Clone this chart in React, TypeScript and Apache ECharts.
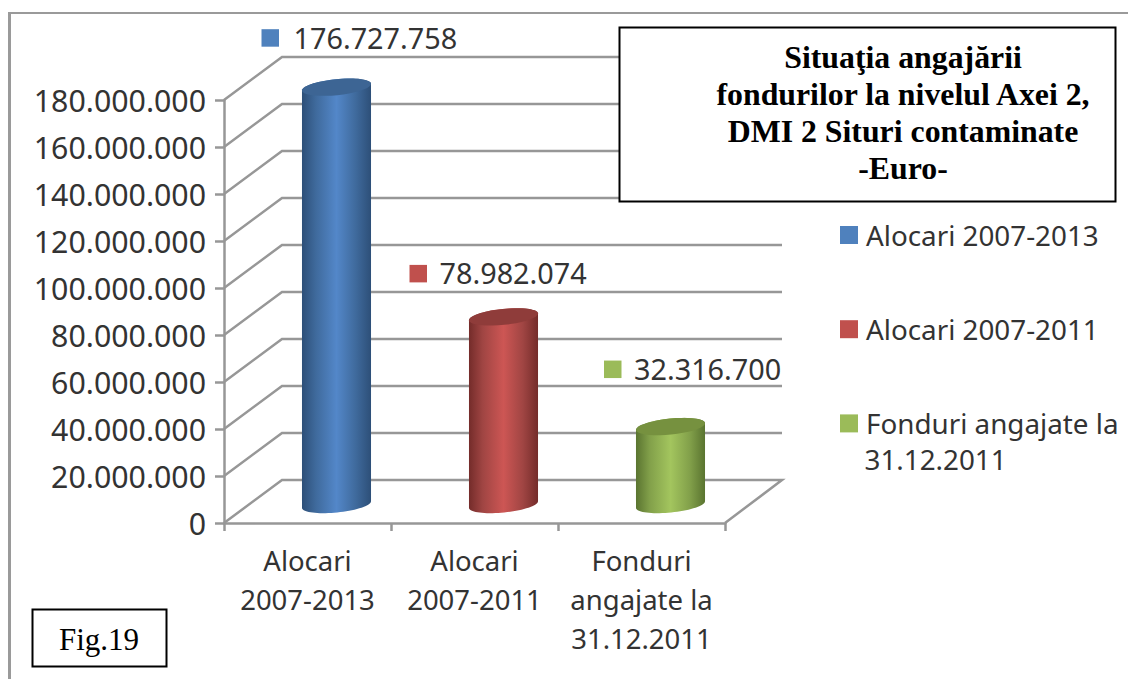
import React, { useEffect, useRef } from "react";
import * as echarts from "echarts";

const categories = ["Alocari\n2007-2013", "Alocari\n2007-2011", "Fonduri\nangajate la\n31.12.2011"];
const seriesNames = ["Alocari 2007-2013", "Alocari 2007-2011", "Fonduri angajate la 31.12.2011"];
const values = [176727758, 78982074, 32316700];
const wallTicks = [0, 20000000, 40000000, 60000000, 80000000, 100000000, 120000000, 140000000, 160000000, 180000000];
const titleLines = ["Situaţia angajării", "fondurilor la nivelul Axei 2,", "DMI 2 Situri contaminate", "-Euro-"];
const figureLabel = "Fig.19";

const baseColors = ["#4f81bd", "#c0504d", "#9bbb59"];
const edgeColors = ["#2d4f78", "#742c2a", "#5a7430"];
const shadeColors = ["#3f6a9c", "#a04543", "#82a04a"];
const lightColors = ["#5387c9", "#cd5654", "#a3c55e"];
const topColors = ["#3d6594", "#8f3c3a", "#76913f"];
const labelOffsets = [[-75, -49, 32], [-94, -43, 30], [-66.5, -57, 30]];

const FONT = '"Noto Sans"';
const GRID = { left: 224, top: 100, width: 501, height: 423 };
const DEPTH_X = 58;
const DEPTH_Y = 43;
const GRAY = "#979797";

const dotted = (v: number) => String(Math.round(v)).replace(/\B(?=(\d{3})+$)/g, ".");

function renderWall(params: any, api: any) {
  const p = api.coord([0, api.value(0)]);
  const x0 = GRID.left;
  const y = p[1];
  const lineStyle = { stroke: GRAY, lineWidth: 2.5, fill: "none" };
  const pts = [[x0, y], [x0 + DEPTH_X, y - DEPTH_Y], [x0 + GRID.width + DEPTH_X - 1, y - DEPTH_Y]];
  if (api.value(0) === 0) pts.push([x0 + GRID.width, y]);
  return { type: "polyline", shape: { points: pts }, style: lineStyle, silent: true };
}

const RX = 34.7;
const RY = 8;
const TILT = (5.8 * Math.PI) / 180;

// Outline point of a tilted ellipse around (cx, cy); angle t runs clockwise on screen from the right end.
function rim(cx: number, cy: number, t: number): number[] {
  const ex = RX * Math.cos(t);
  const ey = RY * Math.sin(t);
  return [cx + ex * Math.cos(TILT) + ey * Math.sin(TILT), cy - ex * Math.sin(TILT) + ey * Math.cos(TILT)];
}

function arcPoints(cx: number, cy: number, from: number, to: number): number[][] {
  const n = 36;
  const out: number[][] = [];
  for (let k = 0; k <= n; k++) out.push(rim(cx, cy, from + ((to - from) * k) / n));
  return out;
}

function cylinder(i: number) {
  return (params: any, api: any) => {
    const top = api.coord([api.value(0), api.value(1)]);
    const base = api.coord([api.value(0), 0]);
    const cx = top[0] + DEPTH_X / 2;
    const topY = top[1] - 20.5;
    const botY = base[1] - 18.5;
    const body = [...arcPoints(cx, botY, 0, Math.PI), ...arcPoints(cx, topY, Math.PI, 2 * Math.PI)];
    const cap = arcPoints(cx, topY, 0, 2 * Math.PI);
    const [ox, oy, gap] = labelOffsets[i];
    const lx = cx + ox;
    const ly = topY + oy;
    return {
      type: "group",
      children: [
        {
          type: "polygon",
          shape: { points: body },
          style: {
            fill: new echarts.graphic.LinearGradient(0, 0, 1, 0, [
              { offset: 0, color: edgeColors[i] },
              { offset: 0.2, color: shadeColors[i] },
              { offset: 0.5, color: lightColors[i] },
              { offset: 0.78, color: shadeColors[i] },
              { offset: 1, color: edgeColors[i] },
            ]),
          },
        },
        { type: "polygon", shape: { points: cap }, style: { fill: topColors[i] } },
        { type: "rect", shape: { x: lx, y: ly - 9, width: 17.5, height: 17.5 }, style: { fill: baseColors[i] } },
        {
          type: "text",
          style: {
            x: lx + gap,
            y: ly - 1,
            text: dotted(api.value(1)),
            fill: "#333333",
            font: `28.8px ${FONT}`,
            verticalAlign: "middle",
            align: "left",
          },
        },
      ],
    };
  };
}

export default function App() {
  const ref = useRef<HTMLDivElement>(null);
  useEffect(() => {
    if (!ref.current) return;
    const chart = echarts.init(ref.current, undefined, { renderer: "svg" });
    const serif = '"Liberation Serif"';
    chart.setOption({
      animation: false,
      backgroundColor: "#ffffff",
      grid: { ...GRID, containLabel: false },
      xAxis: {
        type: "category",
        data: categories,
        axisLine: { lineStyle: { color: GRAY, width: 2.5 } },
        axisTick: { show: true, length: 8, alignWithLabel: false, lineStyle: { color: GRAY, width: 2.5 } },
        axisLabel: { fontFamily: FONT, fontSize: 27.5, color: "#333333", lineHeight: 39, margin: 18, interval: 0 },
      },
      yAxis: {
        type: "value",
        min: 0,
        max: 180000000,
        interval: 20000000,
        axisLine: { show: true, lineStyle: { color: GRAY, width: 2.5 } },
        axisTick: { show: true, length: 9, lineStyle: { color: GRAY, width: 2.5 } },
        splitLine: { show: false },
        axisLabel: { fontFamily: FONT, fontSize: 30.3, color: "#333333", margin: 18, formatter: (v: number) => dotted(v) },
      },
      legend: {
        show: true,
        orient: "vertical",
        left: 835,
        top: 215,
        itemWidth: 18,
        itemHeight: 18,
        itemGap: 64.2,
        icon: "rect",
        data: seriesNames,
        formatter: (n: string) => n.replace(" 31.12.2011", ""),
        textStyle: { fontFamily: FONT, fontSize: 27.8, color: "#333333", lineHeight: 30, padding: [0, 0, 0, 3] },
        selectedMode: false,
      },
      series: [
        { type: "custom", name: "wall", data: wallTicks.map((v) => [v]), renderItem: renderWall, encode: { y: 0 }, z: 1, silent: true },
        ...seriesNames.map((name, i) => ({
          type: "custom",
          name,
          data: [[i, values[i]]],
          renderItem: cylinder(i),
          encode: { x: 0, y: 1 },
          itemStyle: { color: baseColors[i] },
          z: 3,
          silent: true,
        })),
      ],
      graphic: [
        { type: "line", z: 20, shape: { x1: 9.5, y1: 12, x2: 9.5, y2: 679 }, style: { stroke: "#9a9a9a", lineWidth: 3 } },
        { type: "line", z: 20, shape: { x1: 8, y1: 13, x2: 1128, y2: 13 }, style: { stroke: "#9a9a9a", lineWidth: 2 } },
        { type: "rect", z: 20, shape: { x: 619.5, y: 27.5, width: 496, height: 174 }, style: { fill: "#ffffff", stroke: "#000000", lineWidth: 2 } },
        ...titleLines.map((t, i) => ({
          type: "text",
          z: 21,
          x: 903,
          y: 57 + i * 37.2,
          style: { text: t, fill: "#000000", font: `bold 31.8px ${serif}`, align: "center", verticalAlign: "middle" },
        })),
        { type: "rect", z: 20, shape: { x: 32.5, y: 609.5, width: 134, height: 57 }, style: { fill: "#ffffff", stroke: "#000000", lineWidth: 2 } },
        { type: "text", z: 21, x: 99, y: 639, style: { text: figureLabel, fill: "#000000", font: `31px ${serif}`, align: "center", verticalAlign: "middle" } },
        { type: "text", z: 21, x: 864.5, y: 458.5, style: { text: "31.12.2011", fill: "#333333", font: `27.8px ${FONT}`, align: "left", verticalAlign: "middle" } },
      ],
    });
    return () => chart.dispose();
  }, []);
  return <div ref={ref} style={{ position: "absolute", left: 0, top: 0, width: 1128, height: 679 }} />;
}
